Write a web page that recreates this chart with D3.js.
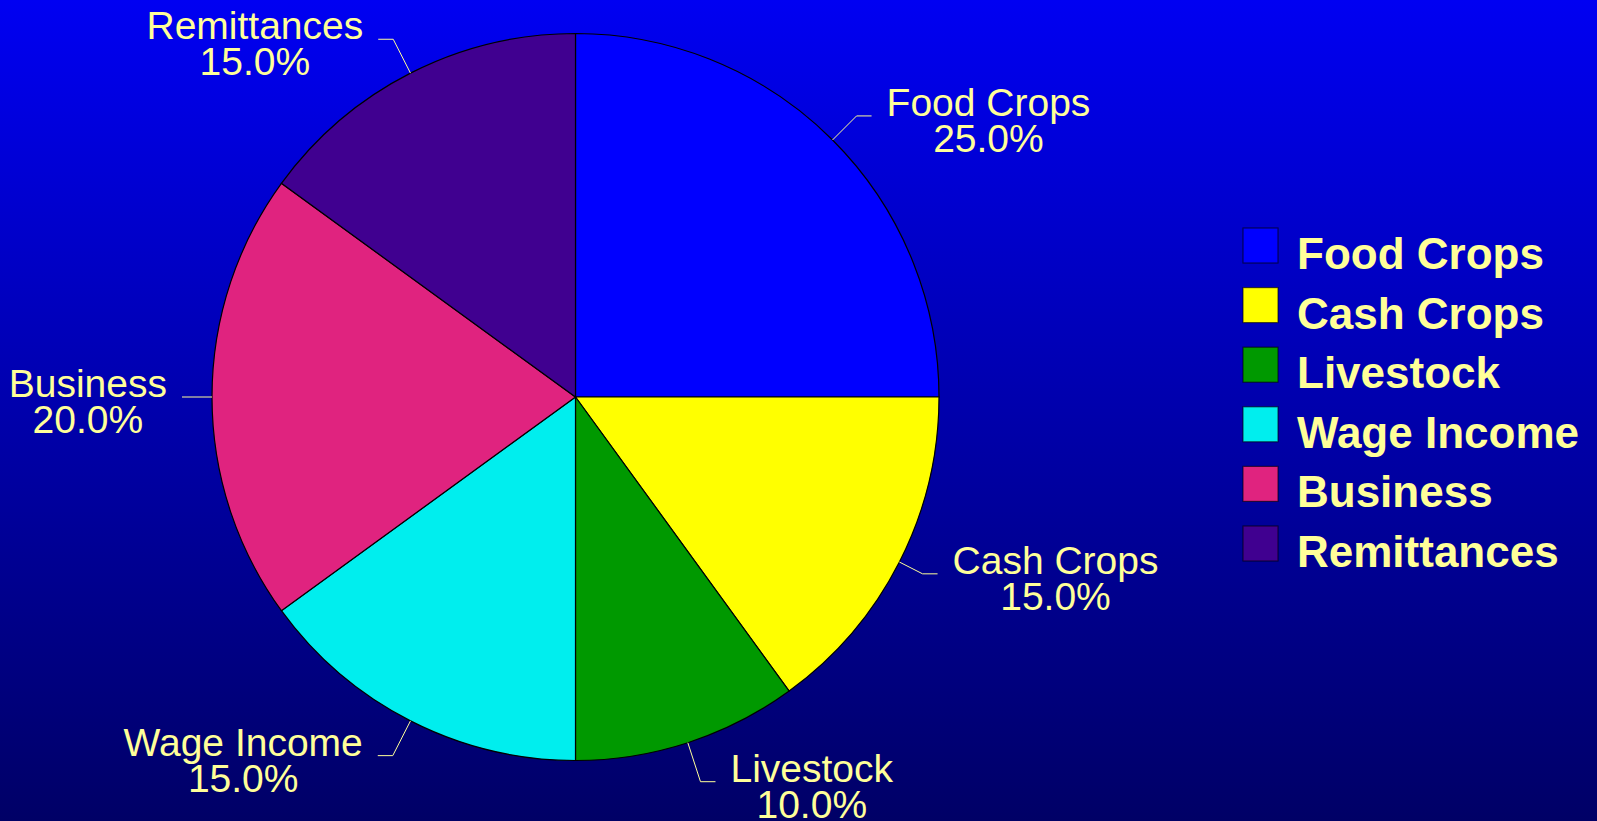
<!DOCTYPE html>
<html>
<head>
<meta charset="utf-8">
<script src="https://cdn.jsdelivr.net/npm/d3@7"></script>
<style>
  html, body { margin: 0; padding: 0; background: #000066; }
  svg { display: block; }
  .slice-label { font-family: Arial, "Liberation Sans", sans-serif; font-size: 39px; fill: #FFFF99; }
  .legend-label { font-family: Arial, "Liberation Sans", sans-serif; font-size: 44px; font-weight: bold; fill: #FFFF99; }
</style>
</head>
<body>
<div id="chart"></div>
<script>

// DATA

var categories = [ 'Food Crops', 'Cash Crops', 'Livestock', 'Wage Income', 'Business', 'Remittances' ];
var shares     = [ 25.0, 15.0, 10.0, 15.0, 20.0, 15.0 ];
var colours    = [ '#0000FF', '#FFFF00', '#009900', '#00EEEE', '#E0237F', '#400090' ];


// LAYOUT

var width  = 1597;
var height = 821;

var pieCx  = 575.5;
var pieCy  = 397;
var radius = 363.5;

// Radial part of each leader line, in slice order (the labels were nudged by hand)
var leaderLength = [ 34, 26, 41, 39, 15, 38 ];
var tailLength   = 15;
var textGap      = 15;
var lineHeight   = 36;

var svg = d3.select( '#chart' ).append( 'svg' )
            .attr( 'width', width )
            .attr( 'height', height );

// Background gradient, bright blue at the top to navy at the bottom
var grad = svg.append( 'defs' ).append( 'linearGradient' )
              .attr( 'id', 'bg' )
              .attr( 'x1', 0 ).attr( 'y1', 0 )
              .attr( 'x2', 0 ).attr( 'y2', 1 );
grad.append( 'stop' ).attr( 'offset', '0%' ).attr( 'stop-color', '#0000F2' );
grad.append( 'stop' ).attr( 'offset', '100%' ).attr( 'stop-color', '#000066' );

svg.append( 'rect' )
    .attr( 'width', width )
    .attr( 'height', height )
    .attr( 'fill', 'url(#bg)' );


// PIE

var colour = d3.scaleOrdinal().domain( categories ).range( colours );

var pie = d3.pie()
            .sort( null )
            .value( function( d, i ) { return shares[i]; } );

var arcs = pie( categories );

var arc = d3.arc().innerRadius( 0 ).outerRadius( radius );

var g = svg.append( 'g' )
            .attr( 'transform', 'translate(' + pieCx + ',' + pieCy + ')' );

g.selectAll( 'path.slice' )
    .data( arcs )
    .enter().append( 'path' )
    .attr( 'class', 'slice' )
    .attr( 'd', arc )
    .attr( 'fill', function( d ) { return colour( d.data ); } )
    .attr( 'stroke', '#000000' )
    .attr( 'stroke-width', 1.2 );

// Leader lines and labels
function polar( a, r ) {
    return [ r * Math.sin( a ), -r * Math.cos( a ) ];
}

arcs.forEach( function( d, i ) {

    var mid   = ( d.startAngle + d.endAngle ) / 2;
    var right = Math.sin( mid ) >= 0;
    var dir   = right ? 1 : -1;

    var p0 = polar( mid, radius );
    var p1 = polar( mid, radius + leaderLength[i] );
    var p2 = [ p1[0] + dir * tailLength, p1[1] ];

    g.append( 'polyline' )
        .attr( 'points', [ p0, p1, p2 ].map( function( p ) { return p.join( ',' ); } ).join( ' ' ) )
        .attr( 'fill', 'none' )
        .attr( 'stroke', '#FFFF99' )
        .attr( 'stroke-width', 1 );

    var label = g.append( 'text' )
                    .attr( 'class', 'slice-label' )
                    .attr( 'text-anchor', 'middle' );

    var l1 = label.append( 'tspan' ).text( d.data );
    var l2 = label.append( 'tspan' ).text( shares[i].toFixed( 1 ) + '%' );

    var w = Math.max( l1.node().getComputedTextLength(), l2.node().getComputedTextLength() );
    var tx = p2[0] + dir * ( textGap + w / 2 );

    l1.attr( 'x', tx ).attr( 'y', p2[1] );
    l2.attr( 'x', tx ).attr( 'y', p2[1] + lineHeight );

} );


// LEGEND

var legendX   = 1243;
var legendY   = 228;
var swatch    = 35;
var rowStep   = 59.6;

var legend = svg.append( 'g' )
                .attr( 'transform', 'translate(' + legendX + ',' + legendY + ')' );

var rows = legend.selectAll( 'g.row' )
                .data( categories )
                .enter().append( 'g' )
                .attr( 'class', 'row' )
                .attr( 'transform', function( d, i ) { return 'translate(0,' + ( i * rowStep ) + ')'; } );

rows.append( 'rect' )
    .attr( 'width', swatch )
    .attr( 'height', swatch )
    .attr( 'fill', function( d ) { return colour( d ); } )
    .attr( 'stroke', '#000000' )
    .attr( 'stroke-opacity', 0.6 )
    .attr( 'stroke-width', 1.2 );

rows.append( 'text' )
    .attr( 'class', 'legend-label' )
    .attr( 'x', 54 )
    .attr( 'y', 41 )
    .text( function( d ) { return d; } );

</script>
</body>
</html>
